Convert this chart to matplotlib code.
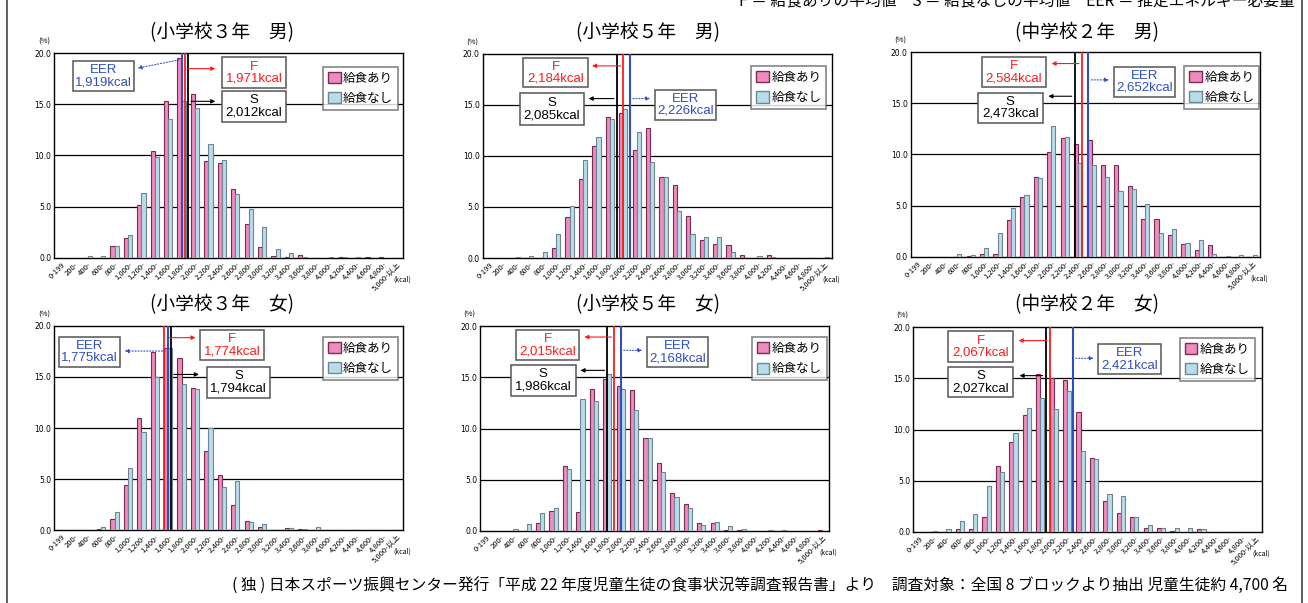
import matplotlib
matplotlib.use("Agg")
import matplotlib.pyplot as plt
from matplotlib.patches import Rectangle, Patch
from matplotlib.lines import Line2D
import numpy as np

plt.rcParams['font.family'] = ['Noto Sans CJK JP', 'DejaVu Sans']

cats = ['0-199', '200-', '400-', '600-', '800-', '1,000-', '1,200-', '1,400-', '1,600-',
        '1,800-', '2,000-', '2,200-', '2,400-', '2,600-', '2,800-', '3,000-', '3,200-',
        '3,400-', '3,600-', '3,800-', '4,000-', '4,200-', '4,400-', '4,600-', '4,800-',
        '5,000-以上']

titles = ['(小学校３年　男)', '(小学校５年　男)', '(中学校２年　男)',
          '(小学校３年　女)', '(小学校５年　女)', '(中学校２年　女)']

# 給食あり (pink) / 給食なし (blue), % per 200kcal class
m3_yes = [0, 0, 0, 0, 1.1, 1.9, 5.2, 10.4, 15.3, 19.5, 16.0, 9.5, 9.3, 6.7, 3.3, 1.0, 0.2, 0.1, 0.3, 0, 0, 0.1, 0, 0.1, 0.1, 0]
m3_no = [0, 0, 0.2, 0.2, 1.1, 2.2, 6.3, 9.9, 13.6, 15.3, 14.6, 11.1, 9.6, 6.2, 4.8, 3.0, 0.9, 0.5, 0.1, 0, 0.1, 0.1, 0.1, 0, 0, 0]
m5_yes = [0, 0, 0, 0, 0, 1.0, 4.0, 7.7, 11.0, 13.8, 14.2, 10.6, 12.7, 7.9, 7.1, 4.1, 1.8, 1.4, 1.3, 0.3, 0, 0.3, 0, 0, 0, 0]
m5_no = [0, 0, 0.1, 0.2, 0.6, 2.3, 5.1, 9.6, 11.8, 13.6, 14.6, 12.3, 9.4, 7.9, 4.6, 2.3, 2.1, 2.1, 0.6, 0, 0.2, 0.1, 0, 0, 0, 0.05]
j2m_yes = [0, 0, 0, 0, 0.05, 0.3, 0.3, 3.6, 5.8, 7.8, 10.2, 11.6, 11.0, 11.4, 9.0, 9.0, 6.9, 3.7, 3.7, 2.1, 1.2, 0.7, 1.1, 0, 0, 0]
j2m_no = [0, 0, 0, 0.3, 0.2, 0.9, 2.3, 4.8, 6.0, 7.7, 12.8, 11.7, 9.2, 9.0, 7.8, 6.4, 6.6, 5.2, 2.3, 2.7, 1.3, 1.6, 0.3, 0.05, 0.2, 0.2]
f3_yes = [0, 0, 0, 0.1, 1.1, 4.4, 11.0, 17.4, 17.8, 16.9, 13.9, 7.8, 5.4, 2.5, 0.9, 0.3, 0, 0.2, 0.1, 0, 0, 0, 0, 0, 0, 0]
f3_no = [0, 0, 0.05, 0.3, 1.8, 6.1, 9.6, 15.0, 17.8, 14.3, 13.8, 10.0, 4.2, 4.8, 0.8, 0.6, 0, 0.2, 0.1, 0.35, 0, 0, 0, 0, 0, 0]
f5_yes = [0, 0, 0, 0, 0.8, 1.9, 6.3, 1.8, 13.9, 14.8, 14.2, 13.8, 9.1, 6.6, 3.7, 2.6, 0.8, 0.8, 0.1, 0.1, 0, 0, 0, 0, 0, 0.1]
f5_no = [0, 0, 0.2, 0.7, 1.7, 2.2, 6.0, 12.9, 12.7, 15.3, 13.9, 11.8, 9.1, 5.7, 3.3, 2.2, 0.6, 0.9, 0.5, 0.2, 0, 0.1, 0.1, 0, 0, 0]
j2f_yes = [0, 0, 0, 0.3, 0.3, 1.4, 6.4, 8.8, 11.4, 15.4, 15.0, 14.8, 11.7, 7.2, 3.0, 1.8, 1.4, 0.4, 0.4, 0.05, 0, 0.3, 0, 0, 0, 0]
j2f_no = [0, 0.05, 0.3, 1.0, 1.7, 4.5, 5.8, 9.7, 12.1, 13.1, 12.0, 13.8, 7.9, 7.1, 3.7, 3.5, 1.4, 0.7, 0.4, 0.4, 0.4, 0.3, 0, 0, 0, 0]

yes_all = [m3_yes, m5_yes, j2m_yes, f3_yes, f5_yes, j2f_yes]
no_all = [m3_no, m5_no, j2m_no, f3_no, f5_no, j2f_no]

# mean values shown in the boxes (kcal)
f_val = [1971, 2184, 2584, 1774, 2015, 2067]
s_val = [2012, 2085, 2473, 1794, 1986, 2027]
eer_val = [1919, 2226, 2652, 1775, 2168, 2421]
# where the source drew the marker lines (kcal scale)
f_pos = [1950, 2100, 2553, 1639, 2001, 2035]
s_pos = [1995, 2000, 2444, 1738, 1897, 1975]
eer_pos = [1896, 2200, 2652, 1698, 2101, 2384]

# layout: boxes (x0, x1, y0, y1) in class units / %, arrow y and arrow end x
layout = [
    dict(F=(12.5, 17.25, 16.6, 19.6), S=(12.5, 17.25, 13.3, 16.3), E=(1.36, 5.96, 16.3, 19.2),
         Fa=(18.5, 12.2), Sa=(15.3, 12.2), Ea=(18.5, 6.0), Ey0=19.4, leg=(0.77, 0.935)),
    dict(F=(3.05, 7.87, 16.7, 19.6), S=(2.76, 7.57, 13.0, 16.1), E=(12.84, 17.43, 13.5, 16.45),
         Fa=(18.8, 7.95), Sa=(15.6, 7.7), Ea=(15.6, 12.7), Ey0=15.6, leg=(0.77, 0.94)),
    dict(F=(5.34, 10.06, 16.6, 19.5), S=(5.0, 9.86, 13.1, 16.05), E=(15.15, 19.74, 15.66, 18.6),
         Fa=(18.9, 10.3), Sa=(15.7, 10.06), Ea=(17.3, 15.0), Ey0=17.3, leg=(0.785, 0.935)),
    dict(F=(10.88, 15.64, 16.65, 19.6), S=(11.35, 16.1, 12.95, 16.0), E=(0.35, 4.9, 16.0, 18.95),
         Fa=(18.85, 10.73), Sa=(15.25, 10.98), Ea=(17.54, 5.04), Ey0=17.54, leg=(0.77, 0.948)),
    dict(F=(2.66, 7.4, 16.67, 19.6), S=(2.28, 7.13, 13.2, 16.18), E=(12.42, 17.0, 16.0, 18.95),
         Fa=(18.95, 7.57), Sa=(15.69, 7.28), Ea=(17.65, 12.3), Ey0=17.65, leg=(0.778, 0.948)),
    dict(F=(2.62, 7.48, 16.6, 19.6), S=(2.62, 7.48, 13.15, 16.1), E=(13.77, 18.45, 15.4, 18.35),
         Fa=(18.7, 7.66), Sa=(15.27, 7.73), Ea=(16.97, 13.67), Ey0=16.97, leg=(0.765, 0.95)),
]

pink = '#EE8CBE'
pink_edge = '#7A2A55'
blue = '#B8DCEA'
blue_edge = '#6F8594'
red = '#FF1A1A'
navy = '#2F4FC0'

fig = plt.figure(figsize=(13.08, 6.03), dpi=100)
W, H = 1308, 603
axes_px = [(54.3, 257.7), (482.5, 258.0), (910.5, 256.7),
           (54.3, 530.3), (480.0, 530.7), (913.0, 531.7)]
title_px = [(222, 33), (648, 33), (1087, 33), (222, 305), (648, 305), (1087, 305)]

x = np.arange(len(cats))
for k in range(6):
    left, bottom = axes_px[k]
    ax = fig.add_axes([left / W, 1 - bottom / H, 349 / W, 204.4 / H])
    ax.bar(x + 0.33, yes_all[k], width=0.31, color=pink, edgecolor=pink_edge, linewidth=0.8, zorder=3)
    ax.bar(x + 0.64, no_all[k], width=0.31, color=blue, edgecolor=blue_edge, linewidth=0.8, zorder=3)
    ax.set_xlim(0, len(cats))
    ax.set_ylim(0, 20)
    ax.set_yticks([0, 5, 10, 15, 20])
    ax.set_yticklabels(['0.0', '5.0', '10.0', '15.0', '20.0'], fontsize=5.5, family='DejaVu Sans')
    ax.set_xticks(x + 0.5)
    ax.set_xticklabels(cats, fontsize=5.5, rotation=45, ha='right', rotation_mode='anchor')
    ax.tick_params(length=0, pad=2)
    for gy in [5, 10, 15]:
        ax.axhline(gy, color='black', lw=0.9, zorder=1)
    for sp in ax.spines.values():
        sp.set_linewidth(1.0)
    ax.text(-0.03, 1.055, '(%)', transform=ax.transAxes, fontsize=5.5, ha='center', va='center')
    ax.text(0.998, -0.105, '(kcal)', transform=ax.transAxes, fontsize=5, ha='center', va='center')

    L = layout[k]
    # marker lines
    ax.plot([s_pos[k] / 200] * 2, [0, 20], color='black', lw=1.3, zorder=4)
    ax.plot([f_pos[k] / 200] * 2, [0, 20], color=red, lw=1.3, zorder=4)
    ax.plot([eer_pos[k] / 200] * 2, [0, 20], color=navy, lw=1.5, zorder=4)

    # boxes
    for key, head, val, col in [('F', 'F', f_val[k], red), ('S', 'S', s_val[k], 'black'),
                                ('E', 'EER', eer_val[k], navy)]:
        x0, x1, y0, y1 = L[key]
        ax.add_patch(Rectangle((x0, y0), x1 - x0, y1 - y0, facecolor='white',
                               edgecolor='#555555', lw=1.1, zorder=6))
        xc = (x0 + x1) / 2
        ax.text(xc, y1 - 0.3 * (y1 - y0), head, color=col, fontsize=9.5,
                family='Liberation Sans', ha='center', va='center', zorder=7)
        ax.text(xc, y1 - 0.7 * (y1 - y0), f'{val:,}kcal', color=col, fontsize=9.5,
                family='Liberation Sans', ha='center', va='center', zorder=7)

    # arrows
    fy, fx = L['Fa']
    ax.annotate('', xy=(fx, fy), xytext=(f_pos[k] / 200, fy),
                arrowprops=dict(arrowstyle='-|>', color=red, lw=0.8, mutation_scale=6), zorder=5)
    sy, sx = L['Sa']
    ax.annotate('', xy=(sx, sy), xytext=(s_pos[k] / 200, sy),
                arrowprops=dict(arrowstyle='-|>', color='black', lw=0.8, mutation_scale=6), zorder=5)
    ey, ex = L['Ea']
    ax.annotate('', xy=(ex, ey), xytext=(eer_pos[k] / 200, L['Ey0']),
                arrowprops=dict(arrowstyle='-|>', color=navy, lw=0.8, ls=':', mutation_scale=6), zorder=5)

    handles = [Patch(facecolor=pink, edgecolor=pink_edge, lw=1.0),
               Patch(facecolor=blue, edgecolor=blue_edge, lw=1.0)]
    leg = ax.legend(handles, ['給食あり', '給食なし'], loc='upper left', bbox_to_anchor=L['leg'],
                    fontsize=9, frameon=True, fancybox=False, edgecolor='#666666',
                    handlelength=1.0, handleheight=1.0, handletextpad=0.2,
                    borderpad=0.4, labelspacing=0.6, borderaxespad=0)
    leg.get_frame().set_linewidth(1.2)
    leg.set_zorder(8)

    tx, ty = title_px[k]
    fig.text(tx / W, 1 - ty / H, titles[k], fontsize=13.5, ha='center', va='center')

fig.text(1295 / W, 1 - 1 / H, 'F ＝ 給食ありの平均値　S ＝ 給食なしの平均値　EER ＝ 推定エネルギー必要量',
         fontsize=11.3, ha='right', va='center')
fig.text(1288 / W, 1 - 586 / H,
         '( 独 ) 日本スポーツ振興センター発行「平成 22 年度児童生徒の食事状況等調査報告書」より　調査対象：全国 8 ブロックより抽出 児童生徒約 4,700 名',
         fontsize=11.3, ha='right', va='center')

fig.add_artist(Line2D([7 / W, 7 / W], [0, 1], color='#444444', lw=1.2))
fig.add_artist(Line2D([1302 / W, 1302 / W], [0, 1], color='#444444', lw=1.2))

fig.savefig('out.png', dpi=100)
